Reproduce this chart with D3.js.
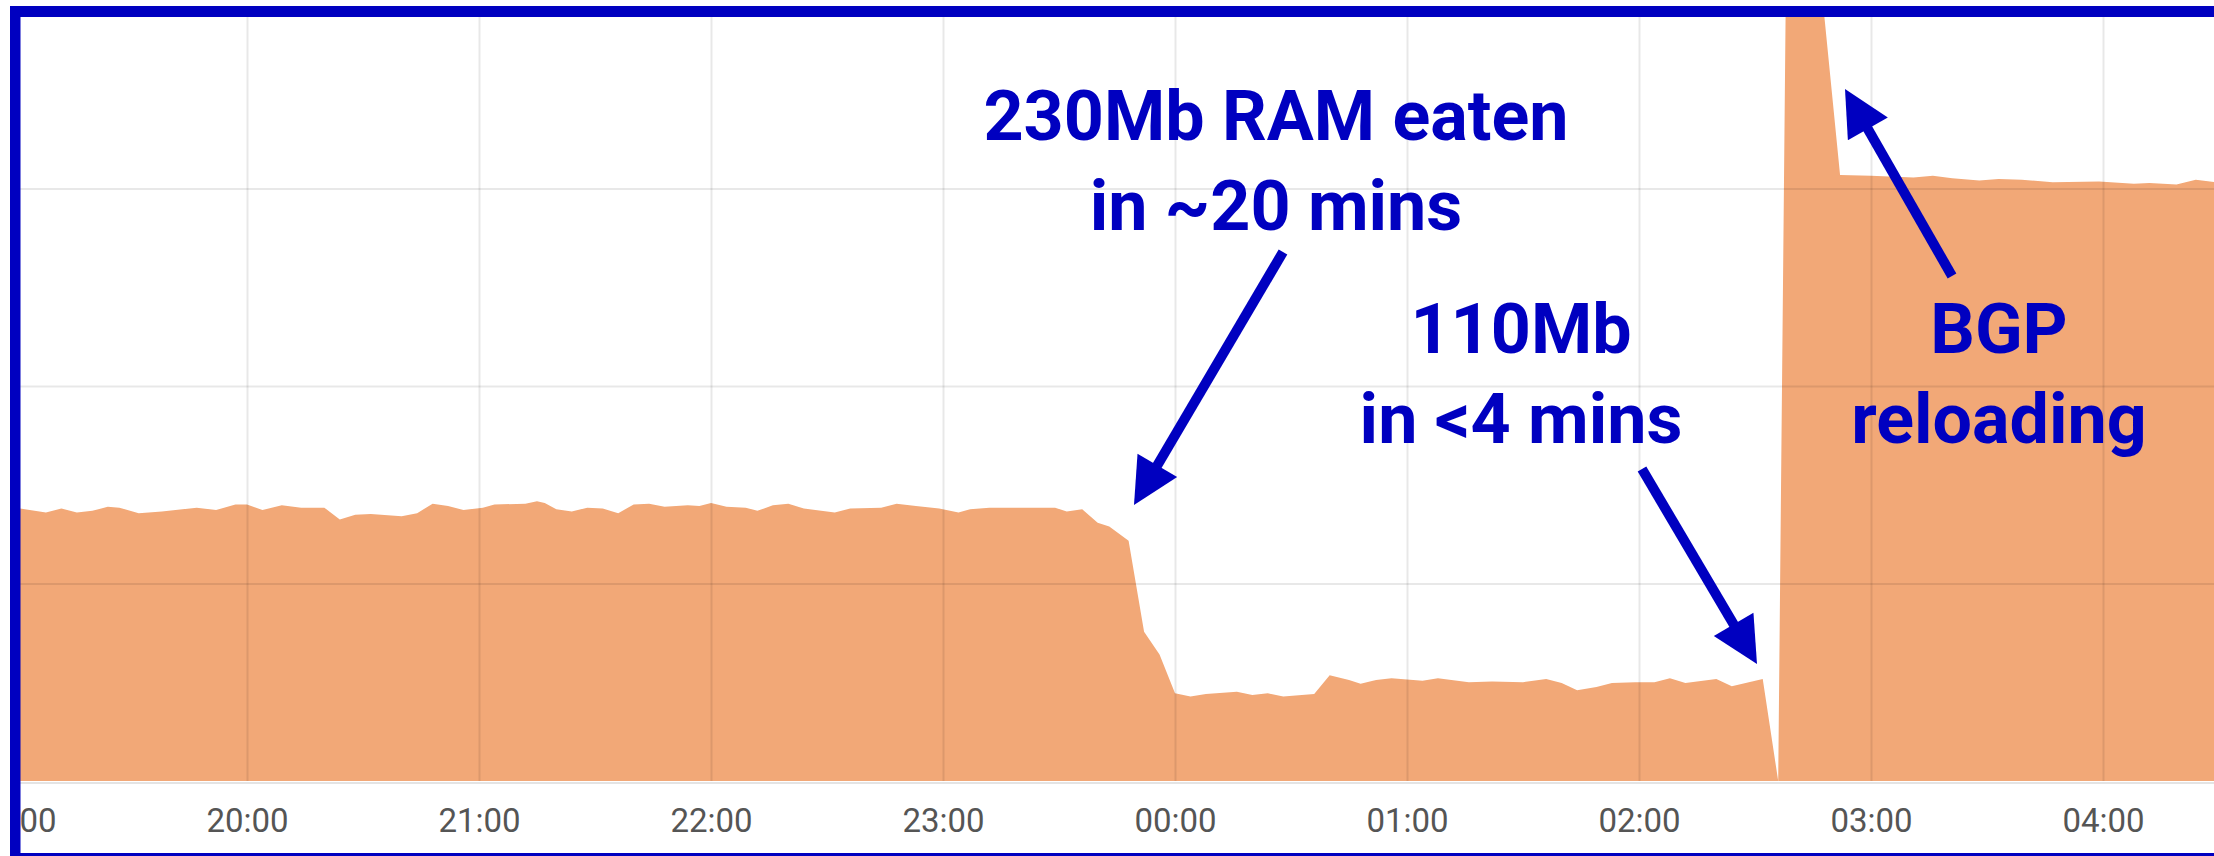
<!DOCTYPE html>
<html>
<head>
<meta charset="utf-8">
<script src="https://cdn.jsdelivr.net/npm/d3@7/dist/d3.min.js"></script>
<style>
    html, body { margin: 0; padding: 0; background: #fff; }
    svg { display: block; }
</style>
</head>
<body>
<div id="chart"></div>
<script>
// memory in use (Mb), one value per sample time
var times = ["19:00", "19:08", "19:12", "19:16", "19:20", "19:24", "19:27", "19:32", "19:38", "19:47",
    "19:52", "19:57", "20:00", "20:04", "20:09", "20:14", "20:20", "20:24", "20:28", "20:32",
    "20:40", "20:44", "20:48", "20:52", "20:56", "21:01", "21:04", "21:12", "21:15", "21:17",
    "21:20", "21:24", "21:28", "21:32", "21:36", "21:40", "21:44", "21:48", "21:54", "21:57",
    "22:00", "22:04", "22:09", "22:12", "22:16", "22:20", "22:24", "22:32", "22:36", "22:44",
    "22:48", "22:53", "22:59", "23:04", "23:07", "23:12", "23:29", "23:32", "23:36", "23:40",
    "23:43", "23:48", "23:52", "23:56", "00:00", "00:04", "00:08", "00:16", "00:20", "00:24",
    "00:28", "00:36", "00:40", "00:45", "00:48", "00:52", "00:56", "01:04", "01:08", "01:16",
    "01:22", "01:30", "01:36", "01:40", "01:44", "01:49", "01:53", "01:59", "02:04", "02:08",
    "02:12", "02:20", "02:24", "02:32", "02:36", "02:38", "02:47", "02:52", "03:00", "03:11",
    "03:16", "03:21", "03:28", "03:33", "03:39", "03:47", "03:59", "04:08", "04:12", "04:19",
    "04:24", "04:29"];

var usedMb = [346, 340, 345, 340, 342, 347, 346, 339, 341, 346,
    343, 350, 350, 343, 349, 346, 346, 331, 337, 338,
    335, 339, 351, 348, 343, 346, 350, 351, 354, 352,
    344, 341, 346, 345, 339, 350, 351, 347, 349, 348,
    352, 347, 346, 342, 349, 351, 345, 340, 345, 346,
    351, 348, 345, 340, 344, 346, 346, 341, 344, 327,
    322, 304, 189, 160, 111, 107, 110, 113, 109, 111,
    107, 110, 134, 128, 123, 128, 130, 127, 130, 125,
    126, 125, 129, 124, 115, 119, 124, 125, 125, 130,
    124, 129, 120, 129, 0, 1014, 1014, 767, 766, 764,
    766, 763, 760, 762, 761, 758, 759, 756, 757, 755,
    761, 758];

var hourTicks = ["19:00", "20:00", "21:00", "22:00", "23:00", "00:00", "01:00", "02:00", "03:00", "04:00"];
var gridMb = [250, 500, 750, 1000];

var noteLines = [["230Mb RAM eaten", "in ~20 mins"], ["110Mb", "in <4 mins"], ["BGP", "reloading"]];

var width = 2214;
var height = 856;
var blue = "#0000c0";

var parseTime = d3.timeParse("%Y-%m-%d %H:%M");
function toDate(hhmm){
    // the morning hours belong to the next day
    var day = +hhmm.slice(0, 2) < 12 ? "2019-01-02" : "2019-01-01";
    return parseTime(day + " " + hhmm);
}

var memData = times.map(function(t, i){ return {"time": toDate(t), "value": usedMb[i]}; });

var svg = d3.select("#chart").append("svg").attr("width", width).attr("height", height);

var plotLeft = 20, plotTop = 17, plotBottom = 781;

var xScale = d3.scaleTime()
    .domain([toDate("20:00"), toDate("04:00")])
    .range([247, 2103]);

var yScale = d3.scaleLinear()
    .domain([0, 1000])
    .range([plotBottom, plotBottom - 790]);

var defs = svg.append("defs");
defs.append("clipPath").attr("id", "plot-clip")
    .append("rect").attr("x", plotLeft).attr("y", plotTop)
    .attr("width", width - plotLeft).attr("height", plotBottom - plotTop);
defs.append("clipPath").attr("id", "inside-clip")
    .append("rect").attr("x", plotLeft).attr("y", plotTop)
    .attr("width", width - plotLeft).attr("height", 853 - plotTop);

var inside = svg.append("g").attr("clip-path", "url(#inside-clip)");

// light axis baseline
inside.append("line")
    .attr("x1", plotLeft).attr("x2", width)
    .attr("y1", plotBottom + 2).attr("y2", plotBottom + 2)
    .attr("stroke", "#e4e4e4").attr("stroke-width", 2);

var area = d3.area()
    .x(function(d){ return xScale(d.time); })
    .y0(yScale(0))
    .y1(function(d){ return yScale(d.value); });

inside.append("g").attr("clip-path", "url(#plot-clip)")
    .append("path")
    .datum(memData)
    .attr("d", area)
    .attr("fill", "#f2a877");

// horizontal grid
var yGrid = inside.append("g")
    .attr("transform", "translate(" + plotLeft + ",0)")
    .call(d3.axisLeft(yScale)
        .tickValues(gridMb)
        .tickSize(-(width - plotLeft))
        .tickFormat(""));
yGrid.select(".domain").remove();
yGrid.selectAll(".tick line").attr("stroke", "rgba(0,0,0,0.09)").attr("stroke-width", 2);

// hour grid + labels
var xAxis = inside.append("g")
    .attr("transform", "translate(0," + plotBottom + ")")
    .call(d3.axisBottom(xScale)
        .tickValues(hourTicks.map(toDate))
        .tickSize(-(plotBottom - plotTop))
        .tickPadding(28)
        .tickFormat(d3.timeFormat("%H:%M")));
xAxis.select(".domain").remove();
xAxis.selectAll(".tick line").attr("stroke", "rgba(0,0,0,0.09)").attr("stroke-width", 2);
xAxis.selectAll(".tick text")
    .attr("fill", "#555")
    .style("font-family", "Roboto, sans-serif")
    .style("font-size", "33px");

// annotations
var notes = [
    {"lines": noteLines[0], "x": 1276, "y": 140},
    {"lines": noteLines[1], "x": 1521, "y": 353},
    {"lines": noteLines[2], "x": 1999, "y": 353}
];

notes.forEach(function(n){
    n.lines.forEach(function(line, i){
        svg.append("text")
            .attr("x", n.x)
            .attr("y", n.y + i * 90)
            .attr("text-anchor", "middle")
            .attr("fill", blue)
            .style("font-family", "Roboto, sans-serif")
            .style("font-weight", 700)
            .style("font-size", "70px")
            .text(line);
    });
});

function arrow(tail, tip){
    var dx = tip[0] - tail[0], dy = tip[1] - tail[1];
    var len = Math.sqrt(dx * dx + dy * dy);
    var ux = dx / len, uy = dy / len;
    var headLen = 46, headHalf = 23;
    var bx = tip[0] - ux * headLen, by = tip[1] - uy * headLen;
    svg.append("line")
        .attr("x1", tail[0]).attr("y1", tail[1])
        .attr("x2", bx + ux * 4).attr("y2", by + uy * 4)
        .attr("stroke", blue).attr("stroke-width", 10);
    svg.append("path")
        .attr("d", "M" + tip[0] + "," + tip[1] +
            "L" + (bx - uy * headHalf) + "," + (by + ux * headHalf) +
            "L" + (bx + uy * headHalf) + "," + (by - ux * headHalf) + "Z")
        .attr("fill", blue);
}

arrow([1283, 252], [1134, 505]);
arrow([1642, 469], [1757, 664]);
arrow([1952, 276], [1845, 89]);

// blue frame
svg.append("rect").attr("x", 10).attr("y", 6).attr("width", width - 10).attr("height", 11).attr("fill", blue);
svg.append("rect").attr("x", 10).attr("y", 6).attr("width", 10.5).attr("height", height - 6).attr("fill", blue);
svg.append("rect").attr("x", 10).attr("y", 853).attr("width", width - 10).attr("height", 3).attr("fill", blue);
</script>
</body>
</html>
